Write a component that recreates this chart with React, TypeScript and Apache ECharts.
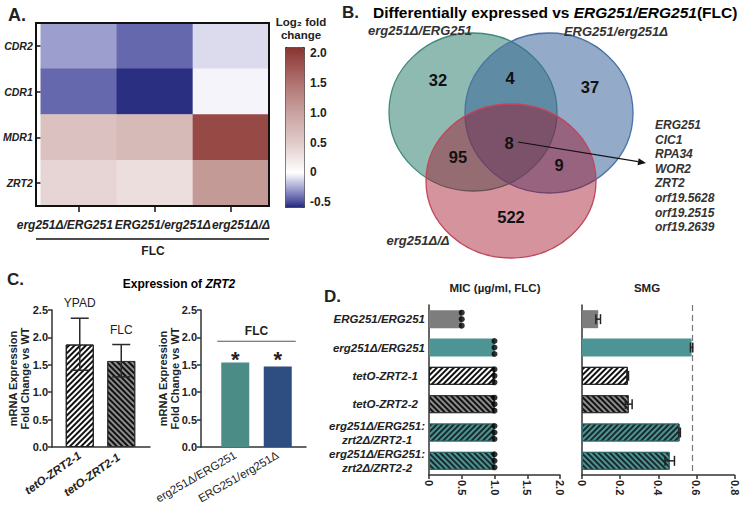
import React, { useEffect, useRef } from 'react';
import * as echarts from 'echarts';

const FONT = '"Liberation Sans", Arial, Helvetica, sans-serif';

// ---------------- data ----------------
// Panel A (log2 fold change heatmap)
const heatGenes = ['CDR2', 'CDR1', 'MDR1', 'ZRT2'];
const heatStrains = ['erg251Δ/ERG251', 'ERG251/erg251Δ', 'erg251Δ/Δ'];
const heatCDR2 = [-0.27, -0.42, -0.1];
const heatCDR1 = [-0.42, -0.56, -0.03];
const heatMDR1 = [0.62, 0.72, 1.9];
const heatZRT2 = [0.4, 0.32, 1.1];
const colorbarMin = -0.58;
const colorbarMax = 2.1;
const colorbarTicks = [-0.5, 0, 0.5, 1, 1.5, 2];

// Panel B (Venn)
const vennTitle = 'ERG251/ERG251';
const vennSets = ['erg251Δ/ERG251', 'ERG251/erg251Δ', 'erg251Δ/Δ'];
const vennCounts = [32, 4, 37, 95, 8, 9, 522]; // A, AB, B, AC, ABC, BC, C
const sharedGenes = ['ERG251', 'CIC1', 'RPA34', 'WOR2', 'ZRT2', 'orf19.5628', 'orf19.2515', 'orf19.2639'];

// Panel C (ZRT2 expression)
const cLeftStrains = ['tetO-ZRT2-1', 'tetO-ZRT2-1 '];
const cLeftConditions = ['YPAD', 'FLC'];
const cLeftMeans = [1.87, 1.57];
const cLeftLower = [1.4, 1.28];
const cLeftUpper = [2.35, 1.87];
const cRightStrains = ['erg251Δ/ERG251', 'ERG251/erg251Δ'];
const cRightMeans = [1.54, 1.47];
const cRightCondition = 'FLC';
const cRightSignificance = ['*', '*'];
const cRightBracketLevel = 1.93;

// Panel D (MIC and SMG)
const dStrains = [
  'ERG251/ERG251',
  'erg251Δ/ERG251',
  'tetO-ZRT2-1',
  'tetO-ZRT2-2',
  'erg251Δ/ERG251:\nzrt2Δ/ZRT2-1',
  'erg251Δ/ERG251:\nzrt2Δ/ZRT2-2',
];
const micMeans = [0.5, 1, 1, 1, 1, 1];
const micReplicates = [
  [0.5, 0.5, 0.5],
  [1, 1, 1],
  [1, 1, 1],
  [1, 1, 1],
  [1, 1, 1],
  [1, 1, 1],
];
const smgMeans = [0.085, 0.575, 0.24, 0.245, 0.512, 0.46];
const smgErr = [0.012, 0.006, 0.004, 0.018, 0.004, 0.025];
const smgReference = 0.576;

// ---------------- styles ----------------
const heatAnchors: [number, string][] = [
  [-0.58, '#22277a'],
  [-0.45, '#5a5da6'],
  [-0.3, '#9194c7'],
  [-0.15, '#c8c9e5'],
  [0, '#ffffff'],
  [0.5, '#e0cbc9'],
  [1.0, '#c9a3a1'],
  [1.5, '#b07370'],
  [2.1, '#8a3431'],
];
const hex = (h: string) => [parseInt(h.slice(1, 3), 16), parseInt(h.slice(3, 5), 16), parseInt(h.slice(5, 7), 16)];
function buildRamp(anchors: [number, string][], min: number, max: number, n: number) {
  const out: string[] = [];
  for (let i = 0; i < n; i++) {
    const v = min + ((max - min) * i) / (n - 1);
    let k = 0;
    while (k < anchors.length - 2 && v > anchors[k + 1][0]) k++;
    const [v0, c0] = anchors[k];
    const [v1, c1] = anchors[k + 1];
    const t = Math.max(0, Math.min(1, (v - v0) / (v1 - v0)));
    const a = hex(c0), b = hex(c1);
    const c = a.map((x, j) => Math.round(x + (b[j] - x) * t));
    out.push(`rgb(${c[0]},${c[1]},${c[2]})`);
  }
  return out;
}
const ramp = buildRamp(heatAnchors, colorbarMin, colorbarMax, 120);

const heatLabelShift = [-14, 8, 10];

// dir = 1 -> "/" stripes, dir = -1 -> "\" stripes
const hatch = (dir: number, color = '#111') => ({
  symbol: 'rect',
  symbolSize: 1,
  dashArrayX: [1, 0],
  dashArrayY: [1.6, 1.8],
  rotation: (-dir * Math.PI) / 4,
  color,
});
const GRAY = '#7d7d7d';
const TEAL = '#4e9494';
const dBarStyles = [
  { color: GRAY },
  { color: TEAL },
  { color: '#ffffff', decal: hatch(1), borderColor: '#222', borderWidth: 1 },
  { color: '#8c8c8c', decal: hatch(-1), borderColor: '#333', borderWidth: 1 },
  { color: TEAL, decal: hatch(1, '#1a2a2a'), borderColor: '#2f6a6a', borderWidth: 1 },
  { color: TEAL, decal: hatch(-1, '#1a2a2a'), borderColor: '#2f6a6a', borderWidth: 1 },
];
const cLeftStyles = [
  { color: '#ffffff', decal: hatch(1), borderColor: '#222', borderWidth: 1 },
  { color: '#8c8c8c', decal: hatch(-1), borderColor: '#333', borderWidth: 1 },
];
const cRightColors = ['#4b8c86', '#2e4e82'];

const vennCircles = [
  { cx: 473, cy: 112, rx: 84, ry: 79, fill: 'rgba(50,130,113,0.55)', stroke: '#3d8a7a' },
  { cx: 549, cy: 113, rx: 84, ry: 80, fill: 'rgba(59,100,155,0.55)', stroke: '#4a72a6' },
  { cx: 511, cy: 181, rx: 85, ry: 77, fill: 'rgba(160,10,35,0.44)', stroke: '#c2465a' },
];
const vennCountPos = [[438, 80], [510, 78], [590, 87], [458, 157], [509, 143], [559, 165], [511, 217]];
const vennSetPos = [[420, 30], [616, 31], [418, 240]];

const font = (size: number, bold = true, italic = false) =>
  `${italic ? 'italic ' : ''}${bold ? 'bold ' : ''}${size}px ${FONT}`;

const txt = (x: number, y: number, text: string, f: string, align = 'center', extra: any = {}) => ({
  type: 'text',
  x,
  y,
  silent: true,
  z: 60,
  style: {
    text,
    font: f,
    fill: '#222',
    align,
    textAlign: align,
    verticalAlign: 'middle',
    textVerticalAlign: 'middle',
    ...extra,
  },
});

const tok = (size: number, bold = true, italic = false, extra: any = {}) => ({
  fontFamily: FONT,
  fontSize: size,
  fontWeight: bold ? 'bold' : 'normal',
  fontStyle: italic ? 'italic' : 'normal',
  color: '#222',
  ...extra,
});

function vErrItem(params: any, api: any) {
  const x = api.value(0);
  const lo = api.coord([x, api.value(1)]);
  const hi = api.coord([x, api.value(2)]);
  const half = 9;
  const st = { stroke: '#2a2a2a', lineWidth: 1.5 };
  return {
    type: 'group',
    children: [
      { type: 'line', shape: { x1: lo[0], y1: lo[1], x2: hi[0], y2: hi[1] }, style: st },
      { type: 'line', shape: { x1: hi[0] - half, y1: hi[1], x2: hi[0] + half, y2: hi[1] }, style: st },
      { type: 'line', shape: { x1: lo[0] - half, y1: lo[1], x2: lo[0] + half, y2: lo[1] }, style: st },
      {
        type: 'text',
        x: hi[0],
        y: hi[1] - 9,
        style: {
          text: cLeftConditions[params.dataIndex],
          font: font(12, false),
          fill: '#222',
          align: 'center',
          textAlign: 'center',
          verticalAlign: 'bottom',
          textVerticalAlign: 'bottom',
        },
      },
    ],
  };
}

function bracketItem(params: any, api: any) {
  const p0 = api.coord([api.value(0), api.value(2)]);
  const p1 = api.coord([api.value(1), api.value(2)]);
  const st = { stroke: '#555', lineWidth: 1.2 };
  const children: any[] = [
    { type: 'line', shape: { x1: p0[0] - 18, y1: p0[1], x2: p1[0] + 18, y2: p1[1] }, style: st },
    {
      type: 'text',
      x: (p0[0] + p1[0]) / 2,
      y: p0[1] - 4,
      style: {
        text: cRightCondition,
        font: font(12),
        fill: '#222',
        align: 'center',
        textAlign: 'center',
        verticalAlign: 'bottom',
        textVerticalAlign: 'bottom',
      },
    },
  ];
  [p0, p1].forEach((p, i) => {
    children.push({
      type: 'text',
      x: p[0],
      y: p[1] + 18,
      style: {
        text: cRightSignificance[i],
        font: font(22),
        fill: '#222',
        align: 'center',
        textAlign: 'center',
        verticalAlign: 'middle',
        textVerticalAlign: 'middle',
      },
    });
  });
  return { type: 'group', children };
}

function hErrItem(params: any, api: any) {
  const row = api.value(2);
  const lo = api.coord([api.value(0), row]);
  const hi = api.coord([api.value(1), row]);
  const half = 5;
  const st = { stroke: '#222', lineWidth: 1.5 };
  return {
    type: 'group',
    children: [
      { type: 'line', shape: { x1: lo[0], y1: lo[1], x2: hi[0], y2: hi[1] }, style: st },
      { type: 'line', shape: { x1: lo[0], y1: lo[1] - half, x2: lo[0], y2: lo[1] + half }, style: st },
      { type: 'line', shape: { x1: hi[0], y1: hi[1] - half, x2: hi[0], y2: hi[1] + half }, style: st },
    ],
  };
}

const fmt1 = (v: number) => (v === 0 ? '0' : v.toFixed(1));

function buildOption() {
  const heatData = [heatCDR2, heatCDR1, heatMDR1, heatZRT2].flatMap((row, r) => row.map((v, c) => [c, r, v]));

  const heatRich: any = {};
  heatLabelShift.forEach((s, i) => {
    heatRich['s' + i] = tok(12, true, true, { padding: s < 0 ? [0, -2 * s, 0, 0] : [0, 0, 0, 2 * s] });
  });

  const dRich = {
    a: tok(11.5, true, true, { lineHeight: 14 }),
    c: tok(11.5, true, true, { lineHeight: 14, align: 'center' }),
    p: tok(11.5, true, true, { padding: [0, 7, 0, 0] }),
  };

  const axisLineStyle = { color: '#333', width: 1.5 };
  const cYAxis = (gridIndex: number, nameGap: number) => ({
    type: 'value',
    gridIndex,
    min: 0,
    max: 2.5,
    interval: 0.5,
    axisLine: { show: true, lineStyle: axisLineStyle },
    axisTick: { show: true, length: 4, lineStyle: axisLineStyle },
    axisLabel: { formatter: (v: number) => v.toFixed(1), ...tok(11), margin: 4 },
    splitLine: { show: false },
    name: 'mRNA Expression\nFold Change vs WT',
    nameLocation: 'middle',
    nameGap,
    nameMoveOverlap: false,
    nameTextStyle: { ...tok(11), lineHeight: 12 },
  });
  const frameX = (gridIndex: number) => ({
    type: 'value',
    gridIndex,
    min: 0,
    max: 1,
    axisLine: { show: true, lineStyle: axisLineStyle },
    axisTick: { show: false },
    axisLabel: { show: false },
    splitLine: { show: false },
  });
  const hiddenY = (gridIndex: number) => ({ type: 'value', gridIndex, min: 0, max: 2.5, show: false });

  const graphic: any[] = [
    // panel letters
    txt(8, 15, 'A.', font(18), 'left'),
    txt(342, 12, 'B.', font(17), 'left'),
    txt(7, 279, 'C.', font(17), 'left'),
    txt(324, 296, 'D.', font(17), 'left'),
    // heatmap frame
    {
      type: 'rect',
      z: 55,
      silent: true,
      shape: { x: 36, y: 23, width: 233, height: 183 },
      style: { fill: 'none', stroke: '#111', lineWidth: 2 },
    },
    { type: 'line', z: 55, silent: true, shape: { x1: 36, y1: 239, x2: 269, y2: 239 }, style: { stroke: '#111', lineWidth: 1.5 } },
    txt(153, 251, 'FLC', font(12)),
    txt(301, 22, 'Log₂ fold', font(11.5)),
    txt(301, 35, 'change', font(11.5)),
    // panel B title
    {
      type: 'text',
      x: 373,
      y: 12,
      z: 60,
      silent: true,
      style: {
        text: `{b|Differentially expressed vs }{i|${vennTitle}}{b|(FLC)}`,
        rich: { b: tok(15.5), i: tok(15.5, true, true) },
        align: 'left',
        textAlign: 'left',
        verticalAlign: 'middle',
        textVerticalAlign: 'middle',
      },
    },
  ];

  vennCircles.forEach((c, i) => {
    graphic.push({
      type: 'ellipse',
      z: 10 + i,
      silent: true,
      shape: { cx: c.cx, cy: c.cy, rx: c.rx, ry: c.ry },
      style: { fill: c.fill, stroke: c.stroke, lineWidth: 1.3 },
    });
  });
  vennSets.forEach((s, i) => {
    graphic.push(txt(vennSetPos[i][0], vennSetPos[i][1], s, font(13, true, true), 'center', { fill: '#333' }));
  });
  vennCounts.forEach((n, i) => {
    graphic.push(txt(vennCountPos[i][0], vennCountPos[i][1], String(n), font(16.5), 'center', { fill: '#111' }));
  });
  // arrow from the centre count to gene list
  const ax0 = 518, ay0 = 142, ax1 = 646, ay1 = 163;
  const dx = ax1 - ax0, dy = ay1 - ay0, len = Math.hypot(dx, dy);
  const ux = dx / len, uy = dy / len, px = -uy, py = ux;
  const bx = ax1 - 8 * ux, by = ay1 - 8 * uy;
  graphic.push({ type: 'line', z: 40, silent: true, shape: { x1: ax0, y1: ay0, x2: bx, y2: by }, style: { stroke: '#111', lineWidth: 1.2 } });
  graphic.push({
    type: 'polygon',
    z: 40,
    silent: true,
    shape: { points: [[ax1, ay1], [bx + 3.5 * px, by + 3.5 * py], [bx - 3.5 * px, by - 3.5 * py]] },
    style: { fill: '#111' },
  });
  sharedGenes.forEach((g, i) => {
    graphic.push(txt(655, 125 + i * 14.6, g, font(12, true, true), 'left', { fill: '#333' }));
  });

  // panel C / D titles
  graphic.push({
    type: 'text',
    x: 179,
    y: 284,
    z: 60,
    silent: true,
    style: {
      text: '{b|Expression of }{i|ZRT2}',
      rich: { b: tok(12), i: tok(12, true, true) },
      align: 'center',
      textAlign: 'center',
      verticalAlign: 'middle',
      textVerticalAlign: 'middle',
    },
  });
  graphic.push(txt(495, 288, 'MIC (µg/ml, FLC)', font(11.5)));
  graphic.push(txt(647, 288, 'SMG', font(11.5)));

  return {
    animation: false,
    backgroundColor: '#ffffff',
    textStyle: { fontFamily: FONT },
    grid: [
      { left: 36, top: 23, width: 233, height: 183 },
      { left: 285, top: 47, width: 19, height: 160 },
      { left: 52, top: 310, width: 98, height: 137 },
      { left: 59, top: 310, width: 83, height: 137 },
      { left: 201, top: 310, width: 105, height: 137 },
      { left: 214, top: 310, width: 85, height: 137 },
      { left: 429, top: 305, width: 131, height: 170 },
      { left: 582, top: 305, width: 153, height: 170 },
    ],
    xAxis: [
      {
        type: 'category',
        gridIndex: 0,
        data: heatStrains,
        axisLine: { show: false },
        axisTick: { show: true, alignWithLabel: true, length: 6, lineStyle: { color: '#111', width: 1.5 } },
        axisLabel: {
          interval: 0,
          margin: 13,
          formatter: (v: string, i: number) => `{s${i}|${v}}`,
          rich: heatRich,
        },
        splitLine: { show: false },
      },
      { type: 'value', gridIndex: 1, show: false },
      frameX(2),
      {
        type: 'category',
        gridIndex: 3,
        data: cLeftStrains,
        axisLine: { show: false },
        axisTick: { show: false },
        axisLabel: { interval: 0, rotate: 35, margin: 7, ...tok(11.5, true, true) },
      },
      frameX(4),
      {
        type: 'category',
        gridIndex: 5,
        data: cRightStrains,
        axisLine: { show: false },
        axisTick: { show: false },
        axisLabel: { interval: 0, rotate: 30, margin: 7, ...tok(11.5, false) },
      },
      {
        type: 'value',
        gridIndex: 6,
        min: 0,
        max: 2,
        interval: 0.5,
        axisLine: { show: true, lineStyle: axisLineStyle },
        axisTick: { show: true, length: 4, lineStyle: axisLineStyle },
        axisLabel: { rotate: -90, margin: 5, formatter: fmt1, ...tok(11) },
        splitLine: { show: false },
      },
      {
        type: 'value',
        gridIndex: 7,
        min: 0,
        max: 0.8,
        interval: 0.2,
        axisLine: { show: true, lineStyle: axisLineStyle },
        axisTick: { show: true, length: 4, lineStyle: axisLineStyle },
        axisLabel: { rotate: -90, margin: 5, formatter: fmt1, ...tok(11) },
        splitLine: { show: false },
      },
    ],
    yAxis: [
      {
        type: 'category',
        gridIndex: 0,
        data: heatGenes,
        inverse: true,
        axisLine: { show: false },
        axisTick: { show: true, alignWithLabel: true, length: 5, lineStyle: { color: '#111', width: 1.5 } },
        axisLabel: { margin: 8, ...tok(10.5, true, true) },
        splitLine: { show: false },
      },
      {
        type: 'value',
        gridIndex: 1,
        min: colorbarMin,
        max: colorbarMax,
        position: 'right',
        axisLine: { show: false },
        axisTick: { show: true, length: 3, customValues: colorbarTicks, lineStyle: { color: '#111', width: 1.2 } },
        axisLabel: { customValues: colorbarTicks, formatter: fmt1, margin: 6, ...tok(12) },
        splitLine: { show: false },
      },
      cYAxis(2, 21),
      hiddenY(3),
      cYAxis(4, 20),
      hiddenY(5),
      {
        type: 'category',
        gridIndex: 6,
        data: dStrains,
        inverse: true,
        axisLine: { show: true, lineStyle: axisLineStyle },
        axisTick: { show: false },
        axisLabel: {
          interval: 0,
          margin: 4,
          formatter: (v: string, i: number) => {
            const parts = v.split('\n');
            if (parts.length === 2) return `{a|${parts[0]}}\n{c|${parts[1]}}`;
            return i === 2 || i === 3 ? `{p|${v}}` : `{a|${v}}`;
          },
          rich: dRich,
        },
      },
      {
        type: 'category',
        gridIndex: 7,
        data: dStrains,
        inverse: true,
        axisLine: { show: true, lineStyle: axisLineStyle },
        axisTick: { show: false },
        axisLabel: { show: false },
      },
    ],
    visualMap: {
      type: 'continuous',
      seriesIndex: 0,
      dimension: 2,
      min: colorbarMin,
      max: colorbarMax,
      calculable: false,
      hoverLink: false,
      left: 285,
      top: 47,
      itemWidth: 19,
      itemHeight: 160,
      padding: 0,
      borderColor: '#333',
      borderWidth: 1,
      inRange: { color: ramp },
    },
    series: [
      {
        type: 'heatmap',
        xAxisIndex: 0,
        yAxisIndex: 0,
        data: heatData,
        itemStyle: { borderWidth: 0 },
        emphasis: { disabled: true },
      },
      {
        type: 'bar',
        xAxisIndex: 3,
        yAxisIndex: 3,
        barWidth: 28,
        data: cLeftMeans.map((v, i) => ({ value: v, itemStyle: cLeftStyles[i] })),
      },
      {
        type: 'custom',
        xAxisIndex: 3,
        yAxisIndex: 3,
        z: 5,
        renderItem: vErrItem,
        encode: { x: 0, y: [1, 2] },
        data: cLeftMeans.map((_, i) => [i, cLeftLower[i], cLeftUpper[i]]),
      },
      {
        type: 'bar',
        xAxisIndex: 5,
        yAxisIndex: 5,
        barWidth: 28,
        data: cRightMeans.map((v, i) => ({ value: v, itemStyle: { color: cRightColors[i] } })),
      },
      {
        type: 'custom',
        xAxisIndex: 5,
        yAxisIndex: 5,
        z: 5,
        renderItem: bracketItem,
        encode: { x: [0, 1], y: 2 },
        data: [[0, 1, cRightBracketLevel]],
      },
      {
        type: 'bar',
        xAxisIndex: 6,
        yAxisIndex: 6,
        barWidth: 18,
        data: micMeans.map((v, i) => ({ value: v, itemStyle: dBarStyles[i] })),
      },
      {
        type: 'scatter',
        xAxisIndex: 6,
        yAxisIndex: 6,
        symbol: 'circle',
        symbolSize: 6,
        z: 6,
        itemStyle: { color: '#000' },
        data: micReplicates.flatMap((reps, row) =>
          reps.map((v, k) => ({ value: [v, row], symbolOffset: [0, (k - 1) * 6.5] }))
        ),
      },
      {
        type: 'bar',
        xAxisIndex: 7,
        yAxisIndex: 7,
        barWidth: 18,
        data: smgMeans.map((v, i) => ({ value: v, itemStyle: dBarStyles[i] })),
        markLine: {
          silent: true,
          symbol: 'none',
          label: { show: false },
          lineStyle: { type: [6, 4], color: '#777', width: 1.2 },
          data: [{ xAxis: smgReference }],
        },
      },
      {
        type: 'custom',
        xAxisIndex: 7,
        yAxisIndex: 7,
        z: 5,
        renderItem: hErrItem,
        encode: { x: [0, 1], y: 2 },
        data: smgMeans.map((m, i) => [m - smgErr[i], m + smgErr[i], i]),
      },
    ],
    graphic,
  };
}

export default function App() {
  const ref = useRef<HTMLDivElement>(null);
  useEffect(() => {
    if (!ref.current) return;
    const chart = echarts.init(ref.current, undefined, { renderer: 'svg' });
    chart.setOption(buildOption() as any);
    return () => chart.dispose();
  }, []);
  return <div ref={ref} style={{ width: 740, height: 509, position: 'absolute', left: 0, top: 0 }} />;
}
